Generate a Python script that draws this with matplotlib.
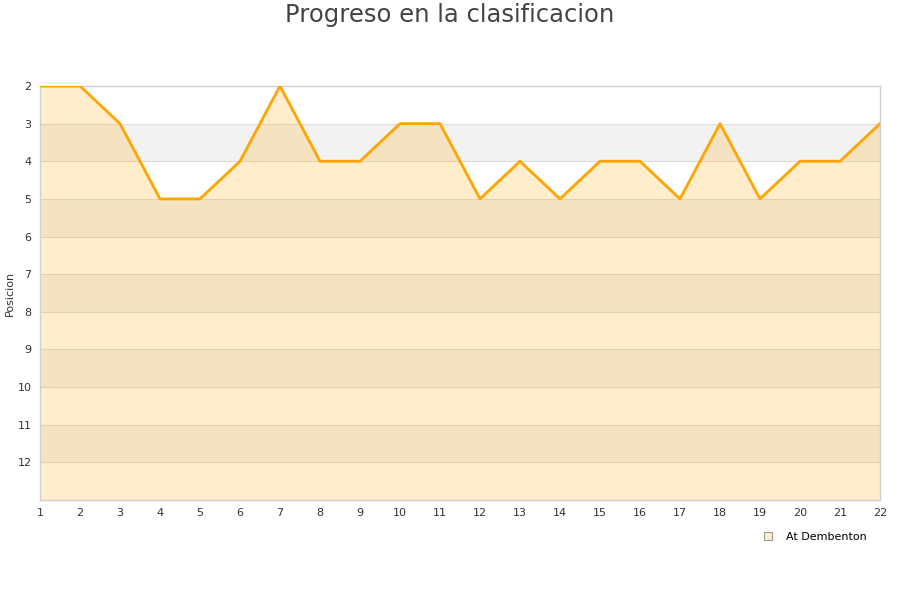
import matplotlib
matplotlib.use("Agg")
import matplotlib.pyplot as plt
from matplotlib.lines import Line2D

jornadas = list(range(1, 23))
posiciones = [2, 2, 3, 5, 5, 4, 2, 4, 4, 3, 3, 5, 4, 5, 4, 4, 5, 3, 5, 4, 4, 3]
yticks = list(range(2, 13))
team = "At Dembenton"
title = "Progreso en la clasificacion"

fig = plt.figure(figsize=(9, 6), dpi=100)
ax = fig.add_axes([40/900, 100/600, 840/900, 414/600])

ymin, ymax = 2, 13
# alternating bands
for i, y0 in enumerate(range(ymin, ymax)):
    if i % 2 == 1:
        ax.axhspan(y0, y0 + 1, color="#f2f2f2", zorder=0, lw=0)
for y in range(ymin, ymax):
    ax.axhline(y, color="#dddddd", lw=0.8, zorder=1)

ax.fill_between(jornadas, posiciones, ymax, color="#ffa500", alpha=0.2, lw=0, zorder=2)
ax.plot(jornadas, posiciones, color="#ffa500", lw=2.0, zorder=3)

ax.set_xlim(1, 22)
ax.set_ylim(ymax, ymin)
ax.set_xticks(jornadas)
ax.set_yticks(yticks)
ax.tick_params(length=0, labelsize=8, labelcolor="#333333", pad=6)
for s in ax.spines.values():
    s.set_color("#d0d0d0")
    s.set_linewidth(1)
ax.set_ylabel("Posicion", fontsize=8, color="#333333")
ax.yaxis.set_label_coords(-0.03, 0.5)

fig.text(0.5, 1 - 15/600, title, fontsize=17.5, color="#444444", ha="center", va="center")

handle = Line2D([], [], marker="s", ls="none", markersize=6,
                markerfacecolor="#ffedcc", markeredgecolor="#999999", markeredgewidth=0.8)
fig.legend([handle], [team], loc="center", bbox_to_anchor=(812/900, 1 - 537/600),
           frameon=False, fontsize=8, handletextpad=0.6)

fig.savefig("out.png", dpi=100)
